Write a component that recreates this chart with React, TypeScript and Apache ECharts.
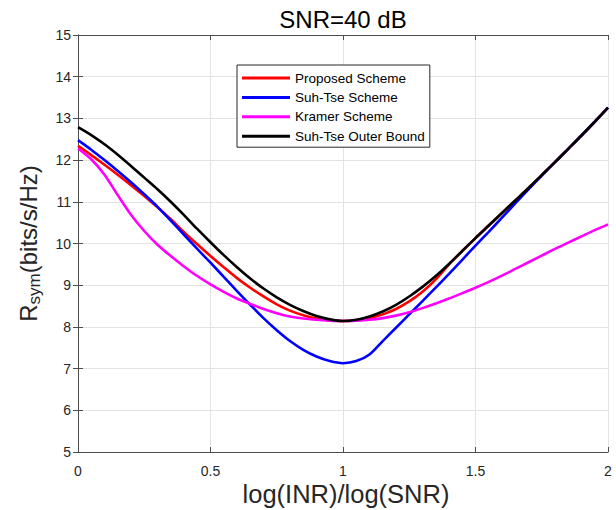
import React, { useEffect, useRef } from "react";
import * as echarts from "echarts";

const X = [
  0, 0.05, 0.1, 0.15, 0.2, 0.25, 0.3, 0.35, 0.4, 0.45, 0.5, 0.55, 0.6, 0.65, 0.7, 0.75, 0.8, 0.85, 0.9, 0.95,
  1.0, 1.05, 1.1, 1.15, 1.2, 1.25, 1.3, 1.35, 1.4, 1.45, 1.5, 1.55, 1.6, 1.65, 1.7, 1.75, 1.8, 1.85, 1.9, 1.95, 2.0,
];

const outerBound = [
  12.79, 12.6, 12.38, 12.13, 11.86, 11.58, 11.3, 11.0, 10.68, 10.35, 10.03, 9.72, 9.43, 9.16, 8.92, 8.71, 8.53, 8.38, 8.26, 8.18,
  8.14, 8.17, 8.25, 8.37, 8.53, 8.73, 8.96, 9.22, 9.51, 9.82, 10.13, 10.43, 10.73, 11.03, 11.33, 11.64, 11.95, 12.27, 12.59, 12.92, 13.26,
];

const proposed = [
  12.34, 12.12, 11.89, 11.65, 11.4, 11.14, 10.87, 10.58, 10.27, 9.98, 9.7, 9.43, 9.17, 8.94, 8.73, 8.54, 8.39, 8.28, 8.2, 8.16,
  8.14, 8.16, 8.21, 8.3, 8.43, 8.61, 8.84, 9.14, 9.5, 9.82, 10.13, 10.43, 10.73, 11.03, 11.33, 11.64, 11.95, 12.27, 12.59, 12.92, 13.26,
];

const suhTse = [
  12.48, 12.25, 12.0, 11.74, 11.47, 11.18, 10.88, 10.55, 10.21, 9.87, 9.54, 9.2, 8.86, 8.53, 8.21, 7.92, 7.66, 7.45, 7.29, 7.18,
  7.13, 7.18, 7.34, 7.66, 7.98, 8.3, 8.62, 8.94, 9.27, 9.61, 9.95, 10.28, 10.62, 10.96, 11.3, 11.63, 11.95, 12.27, 12.59, 12.92, 13.26,
];

const kramer = [
  12.28, 12.02, 11.65, 11.16, 10.69, 10.3, 9.97, 9.7, 9.45, 9.22, 9.02, 8.84, 8.68, 8.55, 8.43, 8.33, 8.25, 8.2, 8.17, 8.15,
  8.14, 8.15, 8.17, 8.21, 8.27, 8.35, 8.45, 8.56, 8.68, 8.81, 8.94, 9.08, 9.23, 9.39, 9.55, 9.71, 9.87, 10.02, 10.17, 10.32, 10.46,
];

const seriesNames = ["Proposed Scheme", "Suh-Tse Scheme", "Kramer Scheme", "Suh-Tse Outer Bound"];
const seriesColors = ["#ff0000", "#0000ff", "#ff00ff", "#000000"];
const seriesValues = [proposed, suhTse, kramer, outerBound];

const xTickLabels = ["0", "0.5", "1", "1.5", "2"];
const yTickLabels = ["5", "6", "7", "8", "9", "10", "11", "12", "13", "14", "15"];

const titleText = "SNR=40 dB";
const xLabelText = "log(INR)/log(SNR)";

const FONT = "'Liberation Sans', Arial, Helvetica, sans-serif";
const AXIS = "#4d4d4d";
const TXT = "#262626";
const GRIDC = "#e3e3e3";

export default function App() {
  const ref = useRef<HTMLDivElement>(null);
  useEffect(() => {
    if (!ref.current) return;
    const chart = echarts.init(ref.current, undefined, { renderer: "svg" });
    const gridLeft = 78;
    const gridRight = 8;
    const gridTop = 35;
    const gridBottom = 58;
    const plotCenterX = gridLeft + (616 - gridLeft - gridRight) / 2;
    const plotCenterY = gridTop + (510 - gridTop - gridBottom) / 2;

    const baseTick = { show: true, inside: true, length: 5, lineStyle: { color: AXIS, width: 1 } };
    const baseLine = { show: true, lineStyle: { color: AXIS, width: 1 } };

    chart.setOption({
      animation: false,
      backgroundColor: "#ffffff",
      textStyle: { fontFamily: FONT },
      grid: { left: gridLeft, right: gridRight, top: gridTop, bottom: gridBottom, containLabel: false },
      legend: {
        data: seriesNames,
        orient: "vertical",
        left: 237,
        top: 65,
        icon: "rect",
        itemWidth: 48,
        itemHeight: 3,
        itemGap: 3.4,
        padding: [5, 5, 3, 5],
        backgroundColor: "#ffffff",
        borderColor: "#262626",
        borderWidth: 1,
        textStyle: { fontFamily: FONT, fontSize: 13.5, color: "#000", lineHeight: 16 },
      },
      xAxis: [
        {
          type: "value",
          min: 0,
          max: 2,
          interval: 0.5,
          position: "bottom",
          axisLine: baseLine,
          axisTick: baseTick,
          axisLabel: {
            fontSize: 14,
            color: TXT,
            fontFamily: FONT,
            margin: 12,
            formatter: (v: number) => xTickLabels[Math.round(v / 0.5)] ?? String(v),
          },
          splitLine: { show: true, lineStyle: { color: GRIDC, width: 1 } },
        },
        {
          type: "value",
          min: 0,
          max: 2,
          interval: 0.5,
          position: "top",
          axisLine: baseLine,
          axisTick: baseTick,
          axisLabel: { show: false },
          splitLine: { show: false },
        },
      ],
      yAxis: [
        {
          type: "value",
          min: 5,
          max: 15,
          interval: 1,
          position: "left",
          axisLine: baseLine,
          axisTick: baseTick,
          axisLabel: {
            fontSize: 14,
            color: TXT,
            fontFamily: FONT,
            margin: 7,
            formatter: (v: number) => yTickLabels[Math.round(v - 5)] ?? String(v),
          },
          splitLine: { show: true, lineStyle: { color: GRIDC, width: 1 } },
        },
        {
          type: "value",
          min: 5,
          max: 15,
          interval: 1,
          position: "right",
          axisLine: baseLine,
          axisTick: baseTick,
          axisLabel: { show: false },
          splitLine: { show: false },
        },
      ],
      series: seriesNames.map((name, k) => ({
        name,
        type: "line",
        xAxisIndex: 0,
        yAxisIndex: 0,
        data: X.map((x, i) => [x, seriesValues[k][i]]),
        showSymbol: false,
        symbol: "none",
        smooth: 0.3,
        lineStyle: { color: seriesColors[k], width: 2.6 },
        itemStyle: { color: seriesColors[k] },
        z: 2 + k,
      })),
      graphic: [
        {
          type: "text",
          x: plotCenterX,
          y: 19,
          style: {
            text: titleText,
            fontFamily: FONT,
            fontSize: 24,
            fill: "#000",
            align: "center",
            verticalAlign: "middle",
          },
        },
        {
          type: "text",
          x: plotCenterX + 3,
          y: 494,
          style: {
            text: xLabelText,
            fontFamily: FONT,
            fontSize: 25.5,
            fill: TXT,
            align: "center",
            verticalAlign: "middle",
          },
        },
        {
          type: "text",
          x: 28,
          y: plotCenterY,
          rotation: Math.PI / 2,
          style: {
            text: "{a|R}{b|sym}{a|(bits/s/Hz)}",
            fontFamily: FONT,
            fill: TXT,
            align: "center",
            verticalAlign: "middle",
            rich: {
              a: { fontSize: 24, fontFamily: FONT, fill: TXT, lineHeight: 30, verticalAlign: "middle" },
              b: { fontSize: 17, fontFamily: FONT, fill: TXT, lineHeight: 30, verticalAlign: "bottom" },
            },
          },
        },
      ],
    });
    return () => chart.dispose();
  }, []);
  return (
    <div
      ref={ref}
      style={{ position: "absolute", left: 0, top: 0, width: 616, height: 510 }}
    />
  );
}
